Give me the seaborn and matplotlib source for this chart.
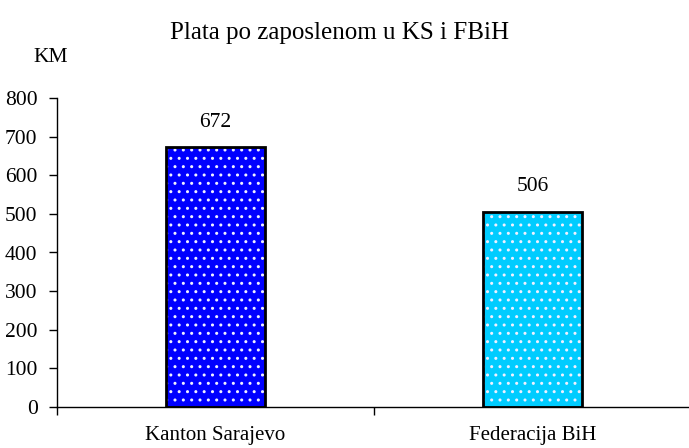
import matplotlib
matplotlib.use("Agg")
import matplotlib.pyplot as plt
import seaborn as sns
import pandas as pd

categories = ["Kanton Sarajevo", "Federacija BiH"]
values = [672, 506]
colors = ["#0000FF", "#00CCFF"]
yticks = [0, 100, 200, 300, 400, 500, 600, 700, 800]

sns.set_style("white")
plt.rcParams["font.family"] = ["Liberation Serif", "DejaVu Serif"]
plt.rcParams["text.color"] = "black"
plt.rcParams["xtick.color"] = "black"
plt.rcParams["ytick.color"] = "black"

df = pd.DataFrame({"cat": categories, "val": values})

fig = plt.figure(figsize=(6.89, 4.48), dpi=100)
ax = fig.add_axes([57/689, 1-407/448, (691-57)/689, (407-98)/448])

sns.barplot(data=df, x="cat", y="val", hue="cat", palette=colors, width=0.315,
            edgecolor="#F0F0FF", linewidth=0, hatch="..", legend=False, ax=ax, saturation=1)
sns.barplot(data=df, x="cat", y="val", width=0.315, fill=False,
            edgecolor="black", linewidth=2, ax=ax, errorbar=None)

ax.set_xlim(-0.5, 1.5)
ax.set_ylim(0, 800)
ax.set_yticks(yticks)
ax.set_yticklabels([str(t) for t in yticks], fontsize=15.5, color="black")
ax.set_xticks([0, 1])
ax.set_xticklabels(categories, fontsize=15, color="black")
ax.tick_params(axis="x", length=0, pad=14)
ax.set_xticks([-0.5, 0.5, 1.5], minor=True)
ax.tick_params(axis="x", which="minor", length=6, direction="out", bottom=True, width=1, color="black")
ax.tick_params(axis="y", length=6, direction="out", left=True, width=1, pad=8, color="black")
ax.set_xlabel("")
ax.set_ylabel("")

for s in ["top", "right"]:
    ax.spines[s].set_visible(False)
for s in ["left", "bottom"]:
    ax.spines[s].set_color("black")
    ax.spines[s].set_linewidth(1)

for i, v in enumerate(values):
    ax.annotate(str(v), (i, v), xytext=(0, 18), textcoords="offset points",
                ha="center", va="center", fontsize=15.5, color="black")

fig.text(340/689, 1-33/448, "Plata po zaposlenom u KS i FBiH", ha="center", va="center", fontsize=18, color="black")
fig.text(51/689, 1-57/448, "KM", ha="center", va="center", fontsize=15.5, color="black")

fig.savefig("out.png", dpi=100)
